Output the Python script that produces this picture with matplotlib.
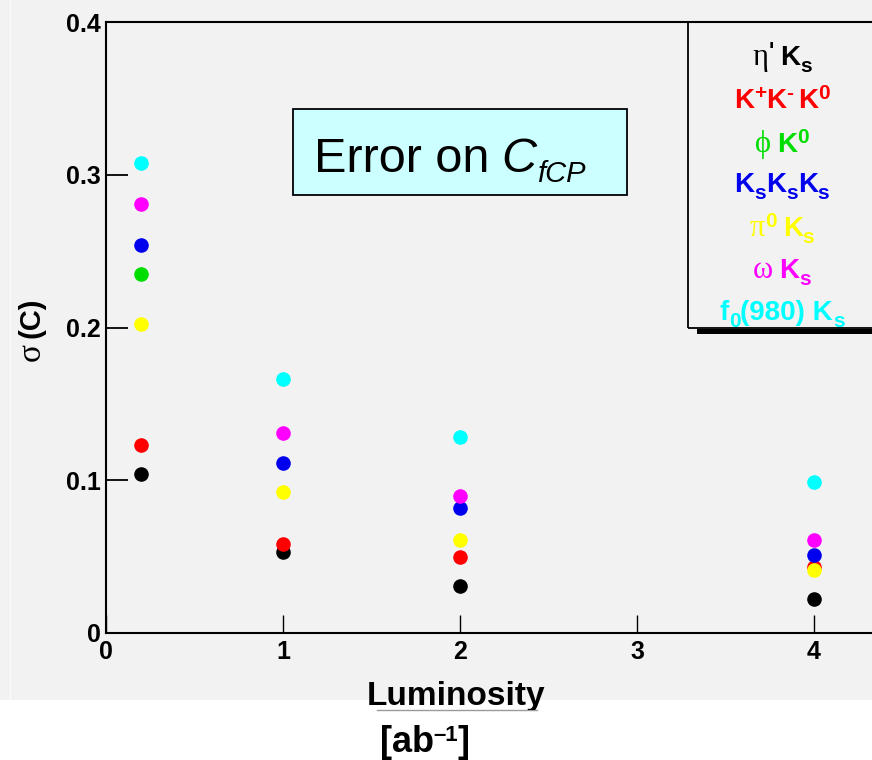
import matplotlib
matplotlib.use("Agg")
import matplotlib.pyplot as plt
import numpy as np
from matplotlib import font_manager
from matplotlib.patches import Rectangle
from matplotlib.transforms import IdentityTransform, Bbox

W, H = 872, 760

# luminosity points and sigma(C) for each channel
lumi = [0.2, 1, 2, 4]
eta_ks = [0.104, 0.053, 0.031, 0.022]
kkk0 = [0.123, 0.058, 0.050, 0.043]
phi_k0 = [0.235, np.nan, np.nan, np.nan]
ksksks = [0.254, 0.111, 0.082, 0.051]
pi0_ks = [0.202, 0.092, 0.061, 0.041]
omega_ks = [0.281, 0.131, 0.090, 0.061]
f0_ks = [0.308, 0.166, 0.128, 0.099]

x_ticks = [0, 1, 2, 3, 4]
y_ticks = [0, 0.1, 0.2, 0.3, 0.4]
y_tick_labels = ["0", "0.1", "0.2", "0.3", "0.4"]

BLACK, RED, GREEN, BLUE = "#000000", "#ff0000", "#00dd00", "#0000ee"
YELLOW, MAGENTA, CYAN = "#ffff00", "#ff00ff", "#00ffff"


def have_font(name):
    try:
        font_manager.findfont(name, fallback_to_default=False)
        return True
    except Exception:
        return False


NARROW = "Liberation Sans Narrow" if have_font("Liberation Sans Narrow") else "Liberation Sans"
SANS = "Liberation Sans"
SERIF = "Liberation Serif"

fig = plt.figure(figsize=(W / 100, H / 100), dpi=100, facecolor="white")


def fx(x):
    return x / W


def fy(y):
    return 1 - y / H


# grey canvas behind the plot
fig.patches.append(Rectangle((0, fy(700)), 1, 700 / H, transform=fig.transFigure,
                             fc="#f2f2f2", ec="none", zorder=-3))
fig.lines.append(plt.Line2D([fx(10), fx(10)], [fy(0), fy(700)], transform=fig.transFigure,
                            color="#fbfbfb", lw=1, zorder=-2))

x0_px, x4_px = 106, 814
unit = (x4_px - x0_px) / 4
ax = fig.add_axes([fx(x0_px), fy(633), 1 - fx(x0_px), (633 - 22) / H])
ax.set_facecolor("none")
ax.set_xlim(0, (W - x0_px) / unit)
ax.set_ylim(0, 0.4)

for s in ["left", "bottom", "top"]:
    ax.spines[s].set_linewidth(1.5)
ax.spines["right"].set_visible(False)

ax.set_xticks(x_ticks)
ax.set_yticks(y_ticks)
ax.set_yticklabels(y_tick_labels)
ax.tick_params(axis="y", direction="in", length=16, width=1.3, pad=4,
               labelsize=18, right=False)
ax.tick_params(axis="x", direction="in", length=13, width=1.0, pad=5,
               labelsize=18, top=False)
for lab in ax.get_xticklabels() + ax.get_yticklabels():
    lab.set_fontfamily(NARROW)
    lab.set_fontweight("bold")

series = [
    (eta_ks, BLACK), (kkk0, RED), (phi_k0, GREEN), (pi0_ks, YELLOW),
    (ksksks, BLUE), (omega_ks, MAGENTA), (f0_ks, CYAN),
]
for vals, col in series:
    ax.plot(lumi, vals, "o", color=col, ms=10.5, mec="none", clip_on=False, zorder=3)

# legend panel with shadow bar
fig.patches.append(Rectangle((fx(688), fy(328)), 1, (328 - 22) / H, transform=fig.transFigure,
                             fc="none", ec="black", lw=1.3, zorder=2))
fig.patches.append(Rectangle((fx(697), fy(334)), 1, 5 / H, transform=fig.transFigure,
                             fc="black", ec="none", zorder=2))

# title box
fig.patches.append(Rectangle((fx(293), fy(195)), (627 - 293) / W, (195 - 109) / H,
                             transform=fig.transFigure, fc="#ccffff", ec="black", lw=1.3, zorder=2))

renderer = fig.canvas.get_renderer()


def runs(pieces, y, color, x=None, center=None):
    """Lay text pieces side by side in pixel coords (y measured from top)."""
    texts = []
    pos = 0.0
    for p in pieces:
        txt, size, family, weight, style, dy, gap = p
        pos += gap
        t = fig.text(pos, H - y + dy, txt, transform=IdentityTransform(), fontsize=size,
                     family=family, weight=weight, style=style, color=color,
                     ha="left", va="baseline", zorder=5)
        w = t.get_window_extent(renderer).width
        texts.append((t, pos))
        pos += w
    start = x if x is not None else center - pos / 2
    for t, p in texts:
        xx, yy = t.get_position()
        t.set_position((start + p, yy))
    return texts


def K(txt="K", gap=0):
    return (txt, 20, NARROW, "bold", "normal", 0, gap)


def sub(txt):
    return (txt, 15, NARROW, "bold", "normal", -7, 0)


def sup(txt):
    return (txt, 15, NARROW, "bold", "normal", 9, 0)


def greek(txt):
    return (txt, 22, SERIF, "normal", "normal", 0, 0)


cx = 782
runs([greek("η"), ("'", 16, NARROW, "bold", "normal", 8, 1), K(gap=6), sub("s")], 65, BLACK, center=cx)
runs([K(), sup("+"), K(), sup("-"), K(gap=5), sup("0")], 108, RED, center=cx)
runs([greek("ϕ"), K(gap=6), sup("0")], 152, GREEN, center=cx)
runs([K(), sub("s"), K(), sub("s"), K(), sub("s")], 192, BLUE, center=cx)
runs([greek("π"), sup("0"), K(gap=6), sub("s")], 236, YELLOW, center=cx)
runs([greek("ω"), K(gap=6), sub("s")], 278, MAGENTA, center=cx)
runs([K("f"), sub("0"), K("(980) K"), sub("s")], 320, CYAN, center=cx)

# title text
runs([("Error on", 35, SANS, "normal", "normal", 0, 0),
      ("C", 35, SANS, "normal", "italic", 0, 12),
      ("fCP", 21, SANS, "normal", "italic", -10, 1)], 172, BLACK, x=314)

# y axis label, rotated
fig.text(fx(31), fy(352), "σ", family=SERIF, fontsize=24, rotation=90,
         ha="center", va="center", zorder=5)
fig.text(fx(31), fy(318), "(C)", family=SANS, weight="bold", fontsize=21, rotation=90,
         ha="center", va="center", zorder=5)

# x axis label, bottom edge cut by the frame
lum = fig.text(fx(456), fy(705), "Luminosity", family=NARROW, weight="bold", fontsize=24,
               ha="center", va="baseline", zorder=5)
lum.set_clip_box(Bbox([[0, H - 710], [W, H]]))
lum.set_clip_on(True)
fig.lines.append(plt.Line2D([fx(377), fx(537)], [fy(710), fy(710)], transform=fig.transFigure,
                            color="#9a9a9a", lw=1, zorder=5))
runs([("[ab", 26, SANS, "bold", "normal", 0, 0),
      ("–1", 16, SANS, "bold", "normal", 11, -1),
      ("]", 26, SANS, "bold", "normal", 0, 0)], 752, BLACK, center=425)

fig.savefig("out.png", dpi=100)
